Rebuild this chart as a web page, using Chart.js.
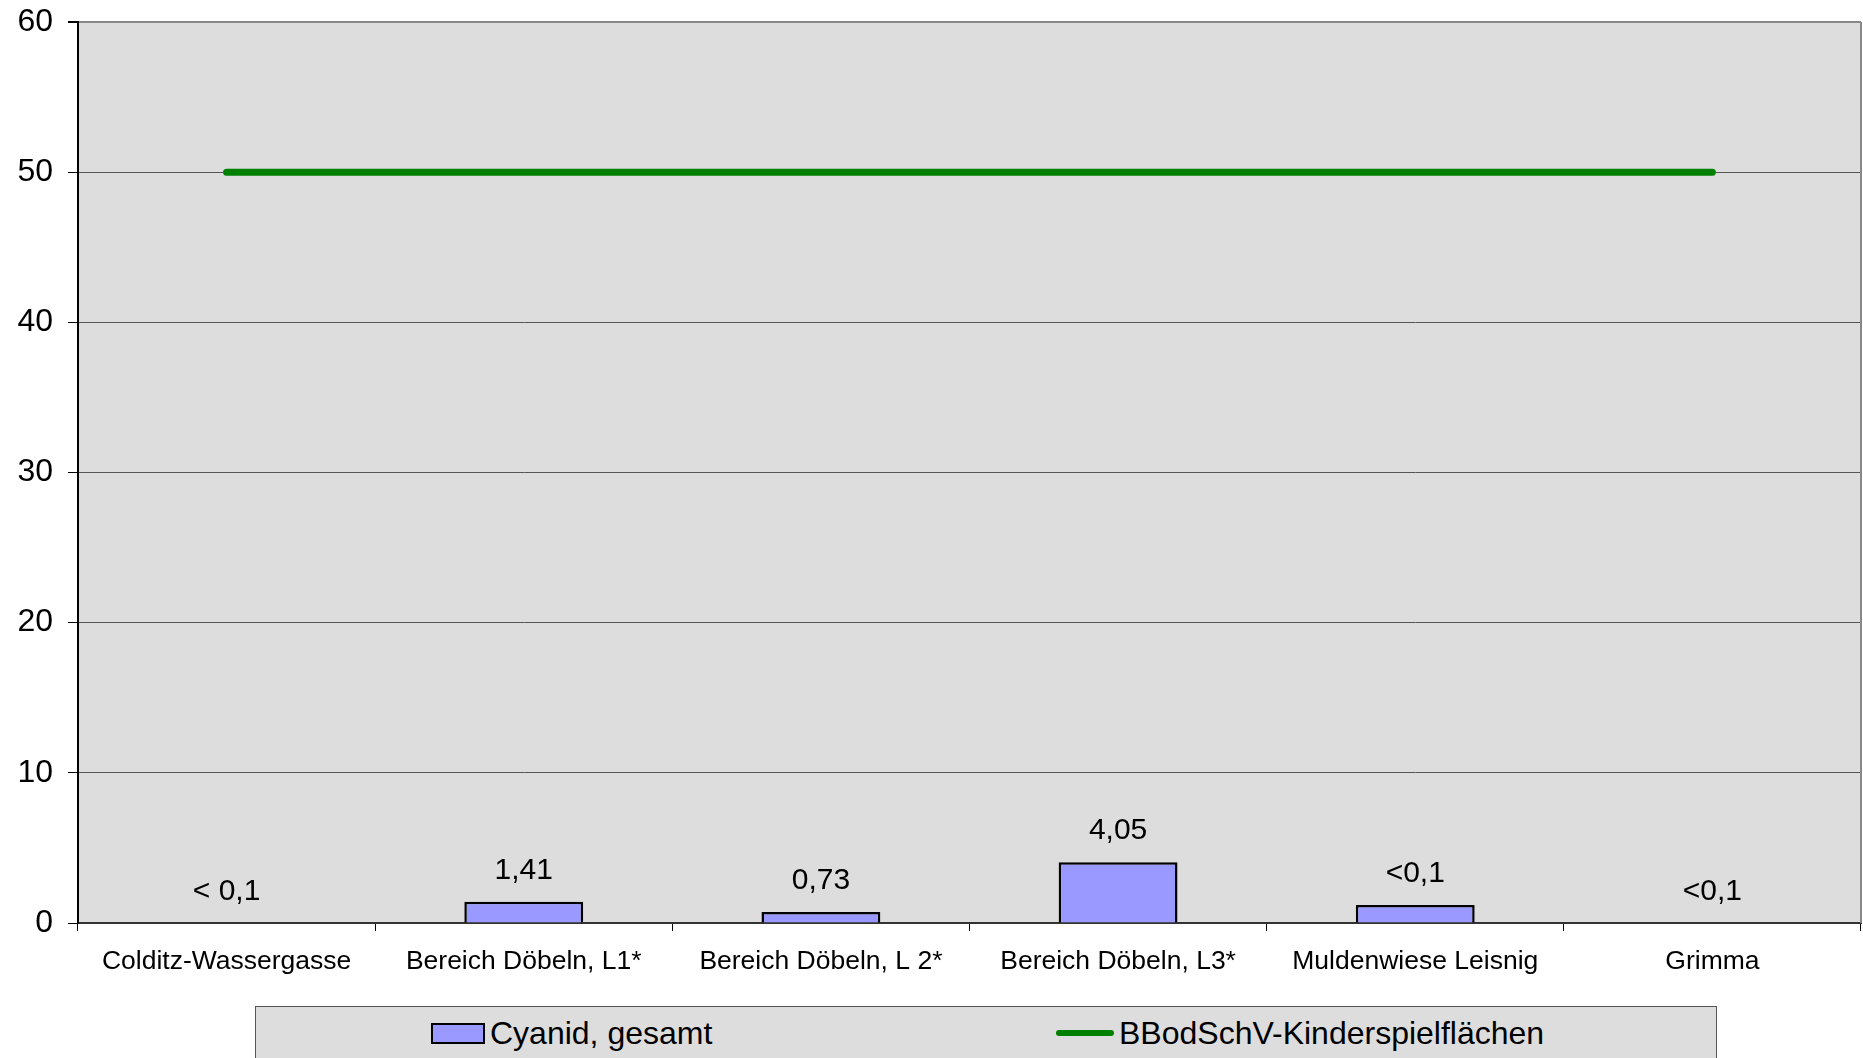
<!DOCTYPE html>
<html>
<head>
<meta charset="utf-8">
<script src="https://cdn.jsdelivr.net/npm/chart.js@4.4.1/dist/chart.umd.min.js"></script>
<style>
    body { margin: 0; background: #fff; font-family: 'Liberation Sans', Arial, sans-serif; }
    #wrap { position: relative; width: 1863px; height: 1058px; overflow: hidden; }
    #legend {
        position: absolute; left: 255px; top: 1006px; width: 1462px; height: 80px;
        background: #ddd; border: 1.5px solid #555; box-sizing: border-box;
    }
    .item { position: absolute; top: 8px; height: 36px; display: flex; align-items: center; font-size: 32px; color: #000; }
    .box { width: 50px; height: 17px; background: #9999ff; border: 2.5px solid #000; margin-right: 5px; }
    .line { width: 58px; height: 6px; background: #008000; border-radius: 3px; margin-right: 5px; }
</style>
</head>
<body>
<div id="wrap">
    <canvas id="chart"></canvas>
    <div id="legend"></div>
</div>
<script>
const categories = ['Colditz-Wassergasse', 'Bereich Döbeln, L1*', 'Bereich Döbeln, L 2*', 'Bereich Döbeln, L3*', 'Muldenwiese Leisnig', 'Grimma'];
const cyanid = [0, 1.41, 0.73, 4.05, 1.2, 0];
const cyanidLabels = ['< 0,1', '1,41', '0,73', '4,05', '<0,1', '<0,1'];
const grenzwert = [50, 50, 50, 50, 50, 50];
const yTicks = [0, 10, 20, 30, 40, 50, 60];

const FONT = "'Liberation Sans', Arial, sans-serif";

// grey plot area + right border
const plotBg = {
    id: 'plotBg',
    beforeDraw(chart) {
        let a = chart.chartArea;
        let ctx = chart.ctx;
        ctx.save();
        ctx.fillStyle = '#dddddd';
        ctx.fillRect(a.left, a.top, a.right - a.left, a.bottom - a.top);
        ctx.restore();
    },
    afterDraw(chart) {
        let a = chart.chartArea;
        let ctx = chart.ctx;
        ctx.save();
        ctx.strokeStyle = '#888';
        ctx.lineWidth = 2;
        ctx.beginPath();
        ctx.moveTo(a.right, a.top);
        ctx.lineTo(a.right, a.bottom);
        ctx.stroke();
        ctx.restore();
    }
};

// value labels above bars
const valueLabels = {
    id: 'valueLabels',
    afterDatasetsDraw(chart) {
        let ctx = chart.ctx;
        let meta = chart.getDatasetMeta(0);
        ctx.save();
        ctx.font = '30px ' + FONT;
        ctx.fillStyle = '#000';
        ctx.textAlign = 'center';
        ctx.textBaseline = 'alphabetic';
        meta.data.forEach((bar, i) => {
            ctx.fillText(cyanidLabels[i], bar.x, bar.y - 23);
        });
        ctx.restore();
    }
};

const chart = new Chart(document.getElementById('chart'), {
    type: 'bar',
    data: {
        labels: categories,
        datasets: [
            {
                type: 'bar',
                label: 'Cyanid, gesamt',
                data: cyanid,
                backgroundColor: '#9999ff',
                borderColor: '#000',
                borderWidth: 2.5,
                categoryPercentage: 1,
                barPercentage: 0.4,
                order: 2
            },
            {
                type: 'line',
                label: 'BBodSchV-Kinderspielflächen',
                data: grenzwert,
                borderColor: '#008000',
                backgroundColor: '#008000',
                borderWidth: 7,
                borderCapStyle: 'round',
                pointRadius: 0,
                fill: false,
                order: 1
            }
        ]
    },
    options: {
        responsive: true,
        maintainAspectRatio: false,
        animation: false,
        layout: { padding: { top: 22, right: 2, bottom: 65, left: 0 } },
        plugins: {
            legend: { display: false },
            tooltip: { enabled: false }
        },
        scales: {
            x: {
                offset: true,
                afterFit: s => { s.height = 70; s.paddingLeft = 0; s.paddingRight = 0; },
                grid: { display: true, drawOnChartArea: false, offset: true, tickLength: 8, tickColor: '#000', tickWidth: 1 },
                border: { color: '#333', width: 2 },
                ticks: { font: { family: FONT, size: 26.5 }, color: '#000', padding: 15, maxRotation: 0, autoSkip: false }
            },
            y: {
                min: 0,
                max: 60,
                afterFit: s => { s.width = 78; s.paddingTop = 0; s.paddingBottom = 0; },
                afterBuildTicks: s => { s.ticks = yTicks.map(v => ({ value: v })); },
                grid: {
                    color: c => c.tick && c.tick.value === 60 ? '#888' : '#555',
                    lineWidth: c => c.tick && c.tick.value === 60 ? 2 : 1,
                    tickLength: 10,
                    tickColor: '#000'
                },
                border: { color: '#000', width: 2 },
                ticks: { font: { family: FONT, size: 32 }, color: '#000', padding: 15 }
            }
        }
    },
    plugins: [plotBg, valueLabels]
});

// legend from datasets
let legendHtml = '';
let lefts = [175, 800];
chart.data.datasets.forEach((ds, i) => {
    let mark = ds.type === 'bar' ? '<span class="box"></span>' : '<span class="line"></span>';
    legendHtml += `<div class="item" style="left:${lefts[i]}px">${mark}${ds.label}</div>`;
});
document.getElementById('legend').innerHTML = legendHtml;
</script>
</body>
</html>
